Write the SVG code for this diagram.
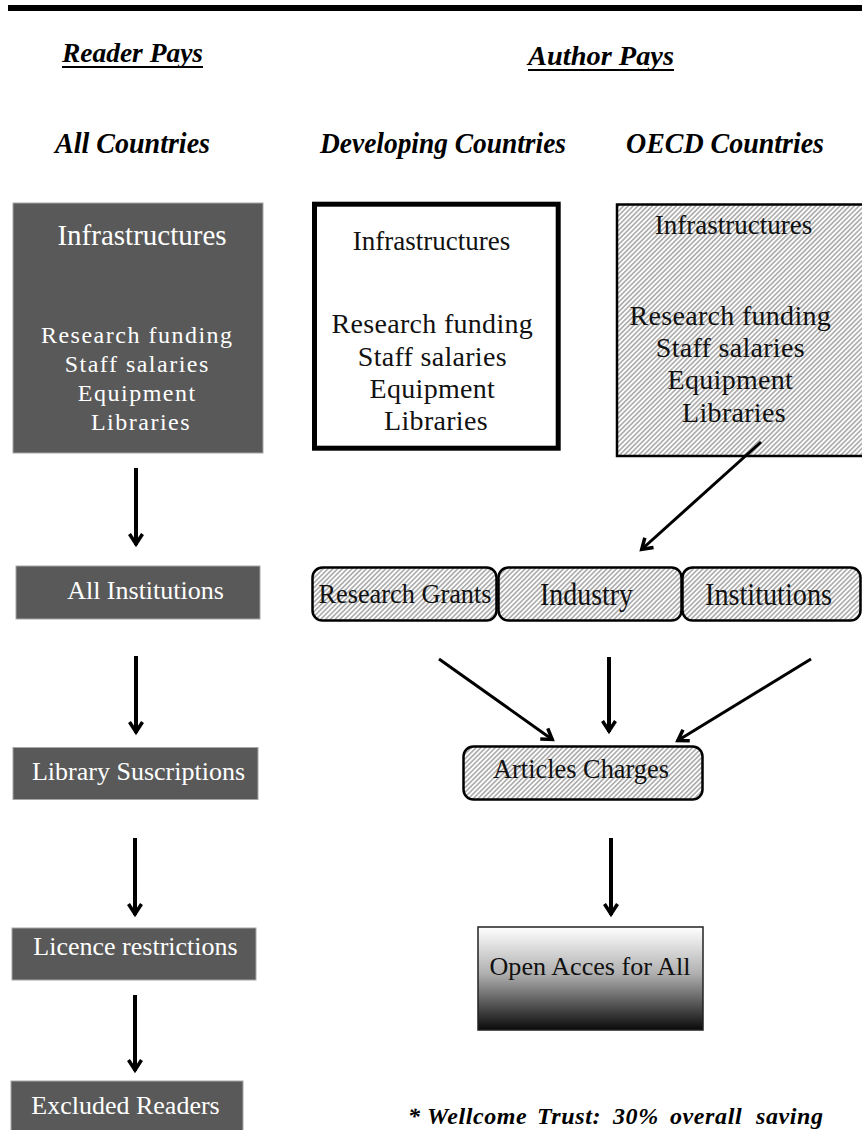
<svg xmlns="http://www.w3.org/2000/svg" width="862" height="1130" viewBox="0 0 862 1130">
<defs>
<style>
.t{font-family:"Liberation Serif","Times New Roman",serif;}
.hd{font-family:"Liberation Serif","Times New Roman",serif;font-style:italic;font-weight:bold;fill:#000;}
.w{fill:#fff;}
.k{fill:#111;}
.dark{fill:#595959;stroke:#a6a6a6;stroke-width:1;}
.hb{fill:url(#hatch);stroke:#000;stroke-width:2.5;}
.arr{stroke:#000;fill:none;marker-end:url(#ah);}
</style>
<pattern id="hatch" patternUnits="userSpaceOnUse" width="3.4" height="3.4" patternTransform="rotate(45)">
<rect width="3.4" height="3.4" fill="#fff"/>
<line x1="1.7" y1="0" x2="1.7" y2="3.4" stroke="#777" stroke-width="1"/>
</pattern>
<linearGradient id="grad" x1="0" y1="0" x2="0" y2="1">
<stop offset="0" stop-color="#ffffff"/>
<stop offset="0.45" stop-color="#b0b0b0"/>
<stop offset="1" stop-color="#0a0a0a"/>
</linearGradient>
<marker id="ah" markerUnits="userSpaceOnUse" markerWidth="30" markerHeight="30" viewBox="-15 -15 30 30" refX="1" refY="0" orient="auto">
<path d="M-10,-6.5 L0,0 L-10,6.5" fill="none" stroke="#000" stroke-width="3.5" stroke-linejoin="miter"/>
</marker>
</defs>
<rect x="0" y="0" width="862" height="1130" fill="#fff"/>
<rect x="8" y="5" width="854" height="6" fill="#000"/>

<g id="headers">
<text class="hd" x="62" y="62" font-size="27" textLength="141" lengthAdjust="spacingAndGlyphs">Reader Pays</text>
<rect x="62" y="66" width="141" height="2" fill="#000"/>
<text class="hd" x="528" y="65" font-size="27" textLength="146" lengthAdjust="spacingAndGlyphs">Author Pays</text>
<rect x="528" y="69" width="146" height="2" fill="#000"/>
<text class="hd" x="55" y="153" font-size="30" textLength="155" lengthAdjust="spacingAndGlyphs">All Countries</text>
<text class="hd" x="320" y="153" font-size="30" textLength="246" lengthAdjust="spacingAndGlyphs">Developing Countries</text>
<text class="hd" x="626" y="153" font-size="30" textLength="198" lengthAdjust="spacingAndGlyphs">OECD Countries</text>
</g>

<g id="n-infra-all">
<rect class="dark" x="13" y="203" width="250" height="250"/>
<text class="t w" x="142" y="245" font-size="29" text-anchor="middle">Infrastructures</text>
<text class="t w" font-size="24" letter-spacing="1.5" text-anchor="middle">
<tspan x="141" y="343">Research funding</tspan>
<tspan x="141" y="372">Staff salaries</tspan>
<tspan x="141" y="401">Equipment</tspan>
<tspan x="141" y="430">Libraries</tspan>
</text>
</g>

<g id="n-infra-dev">
<rect x="314.5" y="204.2" width="243.7" height="244" fill="#fff" stroke="#000" stroke-width="5"/>
<text class="t k" x="431.5" y="250" font-size="27" text-anchor="middle">Infrastructures</text>
<text class="t k" font-size="28" letter-spacing="0.3" text-anchor="middle">
<tspan x="436" y="333">Research funding</tspan>
<tspan x="436" y="366">Staff salaries</tspan>
<tspan x="436" y="398">Equipment</tspan>
<tspan x="436" y="430">Libraries</tspan>
</text>
</g>

<g id="n-infra-oecd">
<rect class="hb" x="617" y="204.5" width="250" height="251.5"/>
<text class="t k" x="733.5" y="234" font-size="27" text-anchor="middle">Infrastructures</text>
<text class="t k" font-size="28" letter-spacing="0.3" text-anchor="middle">
<tspan x="734" y="325">Research funding</tspan>
<tspan x="734" y="357">Staff salaries</tspan>
<tspan x="734" y="389">Equipment</tspan>
<tspan x="734" y="422">Libraries</tspan>
</text>
</g>

<g id="n-all-inst">
<rect class="dark" x="16" y="566" width="244" height="53"/>
<text class="t w" x="145.5" y="599" font-size="26" text-anchor="middle">All Institutions</text>
</g>
<g id="n-lib">
<rect class="dark" x="13" y="747.5" width="245" height="52"/>
<text class="t w" x="138.5" y="780" font-size="26" text-anchor="middle">Library Suscriptions</text>
</g>
<g id="n-lic">
<rect class="dark" x="12" y="928" width="244" height="52"/>
<text class="t w" x="135.5" y="955" font-size="26" text-anchor="middle">Licence restrictions</text>
</g>
<g id="n-excl">
<rect class="dark" x="11" y="1081" width="232" height="52"/>
<text class="t w" x="125.5" y="1114" font-size="26" text-anchor="middle">Excluded Readers</text>
</g>

<g id="n-grants">
<rect class="hb" x="312.5" y="567.5" width="184" height="53" rx="10"/>
<text class="t k" x="405" y="603" font-size="28" text-anchor="middle" textLength="173" lengthAdjust="spacingAndGlyphs">Research Grants</text>
</g>
<g id="n-industry">
<rect class="hb" x="498.5" y="567.5" width="183" height="53" rx="10"/>
<text class="t k" x="586.5" y="605" font-size="32" text-anchor="middle" textLength="93" lengthAdjust="spacingAndGlyphs">Industry</text>
</g>
<g id="n-institutions">
<rect class="hb" x="682.5" y="567.5" width="178" height="53" rx="10"/>
<text class="t k" x="768.5" y="605" font-size="32" text-anchor="middle" textLength="127" lengthAdjust="spacingAndGlyphs">Institutions</text>
</g>

<g id="n-charges">
<rect class="hb" x="463.5" y="746.5" width="239" height="53" rx="10"/>
<text class="t k" x="581" y="778" font-size="27" text-anchor="middle" textLength="176" lengthAdjust="spacingAndGlyphs">Articles Charges</text>
</g>

<g id="n-open">
<rect x="478" y="927" width="225" height="103" fill="url(#grad)" stroke="#222" stroke-width="1.5"/>
<text class="t k" x="590" y="975" font-size="25" text-anchor="middle" textLength="201" lengthAdjust="spacingAndGlyphs">Open Acces for All</text>
</g>

<g id="connectors">
<line class="arr" x1="136" y1="468" x2="136" y2="545" stroke-width="4"/>
<line class="arr" x1="136" y1="656" x2="136" y2="733" stroke-width="4"/>
<line class="arr" x1="135" y1="838" x2="135" y2="915" stroke-width="4"/>
<line class="arr" x1="135" y1="995" x2="135" y2="1071" stroke-width="4"/>
<line class="arr" x1="761" y1="442" x2="641" y2="550" stroke-width="3"/>
<line class="arr" x1="439" y1="659" x2="553" y2="740" stroke-width="3"/>
<line class="arr" x1="609" y1="657" x2="609" y2="732" stroke-width="4"/>
<line class="arr" x1="811" y1="659" x2="677" y2="741" stroke-width="3"/>
<line class="arr" x1="611" y1="838" x2="611" y2="915" stroke-width="4"/>
</g>

<g id="footnote">
<text class="hd" y="1124" font-size="24" letter-spacing="0.6"><tspan x="408">*</tspan><tspan x="427">Wellcome</tspan><tspan x="537">Trust:</tspan><tspan x="613">30%</tspan><tspan x="670">overall</tspan><tspan x="756">saving</tspan></text>
</g>
</svg>
